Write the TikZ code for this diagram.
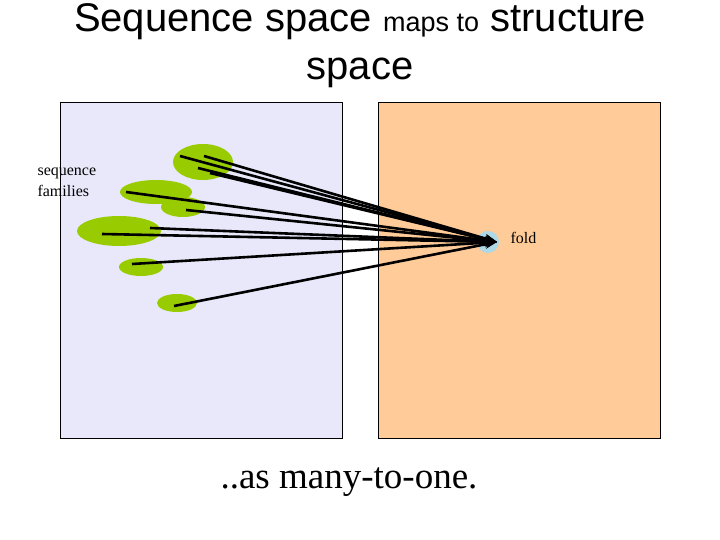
\documentclass[tikz,border=0pt]{standalone}
\usepackage{fontspec}
\setmainfont{Liberation Serif}
\newfontfamily\arialfont{Liberation Sans}
\usetikzlibrary{arrows.meta}
\definecolor{seqblue}{RGB}{232,232,250}
\definecolor{structorange}{RGB}{255,204,153}
\definecolor{famgreen}{RGB}{153,204,0}
\definecolor{foldblue}{RGB}{173,216,230}
\begin{document}
\begin{tikzpicture}[x=1pt,y=-1pt,
        family/.style={fill=famgreen, draw=none},
        maparrow/.style={-{Stealth[length=12pt,width=9pt]}, line width=2.6pt}
    ]
    \useasboundingbox (0,0) rectangle (720,540);
    % title
    \node[align=center, font=\arialfont\fontsize{40}{48}\selectfont] (title) at (360,46)
        {Sequence space {\fontsize{27}{30}\selectfont maps to} structure\\space};
    % the two spaces
    \draw[fill=seqblue] (60,102) rectangle (342,438);
    \draw[fill=structorange] (378,102) rectangle (660,438);
    % sequence families
    \fill[family] (203,162) ellipse (30 and 18);
    \fill[family] (156,192) ellipse (36 and 12);
    \fill[family] (183,207) ellipse (22 and 10);
    \fill[family] (119,231) ellipse (42 and 15);
    \fill[family] (141,267) ellipse (22 and 9);
    \fill[family] (177,303) ellipse (20 and 9);
    \node[align=left, font=\fontsize{16}{21}\selectfont, anchor=west] (families) at (34,182) {sequence\\families};
    % fold
    \fill[foldblue] (488,242) circle (11);
    \coordinate (fold) at (497,242);
    \node[font=\fontsize{16}{19}\selectfont, anchor=west] (foldlabel) at (507,238) {fold};
    % many-to-one maps
    \foreach \sx/\sy in {180/156, 204/156, 198/168, 210/173, 126/192,
                         186/210, 150/228, 102/234, 132/264, 174/306}
        \draw[maparrow] (\sx,\sy) -- (fold);
    \node[font=\fontsize{37}{42}\selectfont] (caption) at (349,482) {..as many-to-one.};
\end{tikzpicture}
\end{document}
